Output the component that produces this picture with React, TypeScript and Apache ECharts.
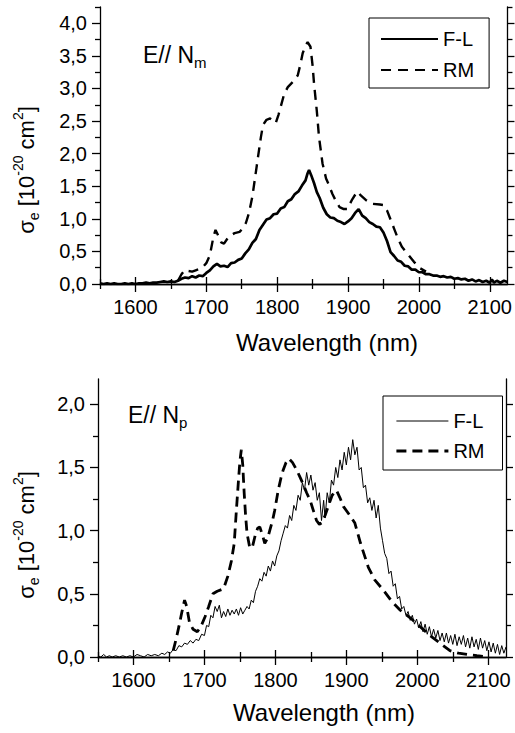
import React, { useEffect, useRef } from 'react';
import * as echarts from 'echarts';

const FONT = 'Liberation Sans, Arial, Helvetica, sans-serif';

// tick values
const xMajor = [1600, 1700, 1800, 1900, 2000, 2100];
const xMinor = [1550, 1650, 1750, 1850, 1950, 2050];
const yTopMajor = [0, 0.5, 1.0, 1.5, 2.0, 2.5, 3.0, 3.5, 4.0];
const yTopMinor = [0.25, 0.75, 1.25, 1.75, 2.25, 2.75, 3.25, 3.75, 4.25];
const yBotMajor = [0, 0.5, 1.0, 1.5, 2.0];
const yBotMinor = [0.25, 0.75, 1.25, 1.75];

const seriesNames = ['F-L', 'RM'];

// Top panel (E // Nm): F-L spectrum
const topFL: [number, number][] = [
  [1550, 0.01], [1555, 0.0], [1560, 0.01], [1565, 0.0], [1570, 0.01], [1575, 0.0], [1580, 0.0], [1585, 0.01],
  [1590, 0.0], [1595, 0.01], [1600, 0.0], [1605, 0.01], [1610, 0.01], [1615, 0.02], [1620, 0.01], [1625, 0.02],
  [1630, 0.02], [1635, 0.03], [1640, 0.04], [1645, 0.03], [1650, 0.04], [1655, 0.03], [1660, 0.05], [1665, 0.08],
  [1670, 0.1], [1675, 0.09], [1680, 0.12], [1685, 0.1], [1690, 0.13], [1695, 0.12], [1700, 0.17], [1705, 0.21],
  [1710, 0.27], [1715, 0.31], [1720, 0.27], [1725, 0.28], [1730, 0.26], [1735, 0.32], [1740, 0.33], [1745, 0.37],
  [1750, 0.39], [1755, 0.47], [1760, 0.53], [1765, 0.63], [1770, 0.69], [1775, 0.83], [1780, 0.91], [1785, 0.99],
  [1790, 1.01], [1795, 1.07], [1800, 1.08], [1805, 1.16], [1810, 1.18], [1815, 1.27], [1820, 1.3], [1825, 1.38],
  [1830, 1.42], [1835, 1.51], [1840, 1.59], [1843, 1.7], [1845, 1.75], [1848, 1.67], [1852, 1.55], [1856, 1.41],
  [1860, 1.32], [1865, 1.17], [1870, 1.07], [1875, 1.02], [1880, 1.01], [1885, 0.97], [1890, 0.95], [1895, 0.92],
  [1900, 0.96], [1905, 1.01], [1910, 1.09], [1915, 1.15], [1920, 1.05], [1925, 1.01], [1930, 0.95], [1935, 0.92],
  [1940, 0.88], [1945, 0.87], [1950, 0.79], [1955, 0.66], [1960, 0.49], [1965, 0.43], [1970, 0.36], [1975, 0.34],
  [1980, 0.28], [1985, 0.27], [1990, 0.22], [1995, 0.22], [2000, 0.18], [2005, 0.18], [2010, 0.15], [2015, 0.15],
  [2020, 0.13], [2025, 0.13], [2030, 0.11], [2035, 0.12], [2040, 0.1], [2045, 0.11], [2050, 0.08], [2055, 0.09],
  [2060, 0.07], [2065, 0.08], [2070, 0.05], [2075, 0.07], [2080, 0.04], [2085, 0.06], [2090, 0.03], [2095, 0.05],
  [2100, 0.02], [2103, 0.07], [2106, 0.02], [2110, 0.05], [2115, 0.02], [2120, 0.05], [2125, 0.03],
];

// Top panel: RM spectrum
const topRM: [number, number][] = [
  [1660, 0.05], [1665, 0.15], [1670, 0.22], [1675, 0.2], [1680, 0.19], [1685, 0.21], [1690, 0.23], [1695, 0.26],
  [1700, 0.32], [1705, 0.44], [1710, 0.72], [1713, 0.83], [1717, 0.74], [1721, 0.64], [1725, 0.62], [1730, 0.7],
  [1735, 0.75], [1740, 0.78], [1747, 0.8], [1752, 0.86], [1756, 0.94], [1760, 1.08], [1765, 1.34], [1770, 1.72],
  [1773, 1.95], [1777, 2.25], [1780, 2.44], [1785, 2.52], [1790, 2.54], [1795, 2.5], [1798, 2.47], [1802, 2.6],
  [1805, 2.72], [1810, 2.92], [1815, 3.02], [1822, 3.1], [1829, 3.2], [1833, 3.38], [1836, 3.54], [1840, 3.66],
  [1843, 3.71], [1847, 3.64], [1850, 3.35], [1852, 3.08], [1856, 2.65], [1859, 2.26], [1864, 1.85], [1869, 1.62],
  [1873, 1.52], [1878, 1.38], [1883, 1.27], [1888, 1.18], [1894, 1.15], [1899, 1.15], [1906, 1.3], [1913, 1.42],
  [1918, 1.36], [1925, 1.29], [1934, 1.23], [1945, 1.22], [1951, 1.21], [1955, 1.13], [1960, 0.99], [1965, 0.85],
  [1970, 0.71], [1976, 0.57], [1985, 0.45], [1993, 0.34], [2002, 0.24], [2010, 0.19],
];

// Bottom panel (E // Np): F-L spectrum
const botFL: [number, number][] = [
  [1550, 0.01], [1554, 0.0], [1558, 0.02], [1562, 0.0], [1566, 0.01], [1570, 0.0], [1575, 0.01], [1580, 0.0],
  [1585, 0.01], [1590, 0.0], [1595, 0.01], [1600, 0.0], [1605, 0.02], [1610, 0.01], [1615, 0.0], [1620, 0.02],
  [1625, 0.01], [1630, 0.02], [1635, 0.01], [1640, 0.03], [1644, 0.02], [1648, 0.04], [1652, 0.03], [1656, 0.06],
  [1660, 0.05], [1664, 0.09], [1668, 0.08], [1672, 0.11], [1676, 0.1], [1680, 0.13], [1684, 0.11], [1688, 0.14],
  [1692, 0.13], [1696, 0.18], [1700, 0.17], [1703, 0.25], [1706, 0.24], [1709, 0.33], [1712, 0.31], [1715, 0.4],
  [1718, 0.36], [1721, 0.41], [1724, 0.31], [1727, 0.36], [1730, 0.32], [1733, 0.38], [1736, 0.33], [1739, 0.37],
  [1742, 0.34], [1745, 0.38], [1748, 0.33], [1751, 0.39], [1754, 0.34], [1757, 0.37], [1760, 0.4], [1763, 0.38],
  [1766, 0.45], [1769, 0.43], [1772, 0.52], [1775, 0.56], [1778, 0.62], [1781, 0.6], [1784, 0.67], [1787, 0.64],
  [1790, 0.72], [1793, 0.68], [1796, 0.76], [1799, 0.72], [1802, 0.8], [1805, 0.84], [1808, 0.92], [1811, 0.98],
  [1814, 1.04], [1817, 1.02], [1820, 1.12], [1823, 1.08], [1826, 1.2], [1829, 1.16], [1832, 1.28], [1835, 1.24],
  [1838, 1.38], [1841, 1.32], [1844, 1.46], [1847, 1.36], [1850, 1.44], [1853, 1.32], [1856, 1.38], [1859, 1.24],
  [1862, 1.3], [1865, 1.08], [1868, 1.24], [1870, 1.1], [1873, 1.3], [1876, 1.22], [1879, 1.4], [1882, 1.36],
  [1885, 1.5], [1888, 1.42], [1891, 1.56], [1894, 1.48], [1897, 1.62], [1900, 1.52], [1903, 1.66], [1906, 1.56],
  [1909, 1.72], [1912, 1.6], [1915, 1.66], [1918, 1.48], [1921, 1.5], [1924, 1.34], [1927, 1.36], [1930, 1.22],
  [1933, 1.26], [1936, 1.16], [1939, 1.24], [1942, 1.1], [1945, 1.2], [1948, 1.02], [1951, 0.92], [1954, 0.82],
  [1957, 0.78], [1960, 0.66], [1963, 0.68], [1966, 0.56], [1969, 0.58], [1972, 0.46], [1975, 0.48], [1978, 0.38],
  [1981, 0.4], [1984, 0.33], [1987, 0.36], [1990, 0.29], [1993, 0.33], [1996, 0.26], [1999, 0.3], [2002, 0.23],
  [2005, 0.28], [2008, 0.2], [2011, 0.26], [2014, 0.18], [2017, 0.24], [2020, 0.16], [2023, 0.22], [2026, 0.15],
  [2029, 0.21], [2032, 0.13], [2035, 0.19], [2038, 0.12], [2041, 0.19], [2044, 0.11], [2047, 0.17], [2050, 0.1],
  [2053, 0.18], [2056, 0.09], [2059, 0.16], [2062, 0.1], [2065, 0.17], [2068, 0.08], [2071, 0.15], [2074, 0.07],
  [2077, 0.16], [2080, 0.08], [2083, 0.14], [2086, 0.06], [2089, 0.15], [2092, 0.07], [2095, 0.13], [2098, 0.05],
  [2101, 0.12], [2104, 0.04], [2107, 0.11], [2110, 0.03], [2113, 0.1], [2116, 0.02], [2119, 0.09], [2122, 0.03],
  [2125, 0.08],
];

// Bottom panel: RM spectrum
const botRM: [number, number][] = [
  [1656, 0.05], [1660, 0.14], [1664, 0.24], [1668, 0.35], [1672, 0.45], [1675, 0.4], [1679, 0.27], [1684, 0.22],
  [1690, 0.2], [1695, 0.24], [1701, 0.32], [1706, 0.4], [1712, 0.5], [1718, 0.52], [1727, 0.54], [1733, 0.64],
  [1738, 0.76], [1742, 0.9], [1745, 1.16], [1748, 1.4], [1750, 1.55], [1752, 1.64], [1754, 1.52], [1756, 1.3],
  [1758, 1.12], [1760, 0.98], [1764, 0.86], [1768, 0.88], [1771, 0.95], [1775, 1.02], [1778, 1.03], [1782, 0.96],
  [1785, 0.9], [1789, 0.94], [1792, 1.0], [1796, 1.08], [1799, 1.16], [1804, 1.32], [1808, 1.42], [1811, 1.48],
  [1815, 1.54], [1819, 1.57], [1824, 1.54], [1830, 1.48], [1835, 1.42], [1839, 1.37], [1844, 1.3], [1849, 1.24],
  [1854, 1.15], [1858, 1.08], [1862, 1.05], [1865, 1.06], [1870, 1.12], [1875, 1.2], [1880, 1.28], [1886, 1.32],
  [1891, 1.26], [1896, 1.19], [1905, 1.12], [1912, 1.06], [1916, 0.98], [1920, 0.9], [1924, 0.83], [1931, 0.71],
  [1940, 0.61], [1952, 0.53], [1964, 0.44], [1976, 0.37], [1990, 0.31], [2004, 0.24], [2018, 0.17], [2032, 0.11],
  [2046, 0.05], [2058, 0.03], [2070, 0.02], [2084, 0.01], [2100, 0.0],
];

const X_MIN = 1550;
const X_MAX = 2125;
const Y_TOP_MAX = 4.25;
const Y_BOT_MAX = 2.2;

const black = '#000';
const fmtComma = (v: number) => v.toFixed(1).replace('.', ',');

function xAxesFor(grid: number) {
  const base = {
    gridIndex: grid, type: 'value', min: X_MIN, max: X_MAX,
    splitLine: { show: false },
  };
  return [
    {
      ...base, position: 'bottom',
      axisLine: { show: true, lineStyle: { color: black, width: 1.3 } },
      axisTick: { show: true, inside: false, length: 8, customValues: xMajor, lineStyle: { color: black, width: 1.3 } },
      axisLabel: { show: true, customValues: xMajor, margin: 13, fontSize: 20, fontFamily: FONT, color: black, formatter: (v: number) => String(v) },
    },
    {
      ...base, position: 'bottom',
      axisLine: { show: false },
      axisTick: { show: true, inside: false, length: 5, customValues: xMinor, lineStyle: { color: black, width: 1.3 } },
      axisLabel: { show: false },
    },
    {
      ...base, position: 'top',
      axisLine: { show: true, lineStyle: { color: black, width: 1.3 } },
      axisTick: { show: true, inside: false, length: 7, customValues: xMajor, lineStyle: { color: black, width: 1.3 } },
      axisLabel: { show: false },
    },
    {
      ...base, position: 'top',
      axisLine: { show: false },
      axisTick: { show: true, inside: false, length: 5, customValues: xMinor, lineStyle: { color: black, width: 1.3 } },
      axisLabel: { show: false },
    },
  ];
}

function yAxesFor(grid: number, max: number, major: number[], minor: number[]) {
  const base = {
    gridIndex: grid, type: 'value', min: 0, max,
    splitLine: { show: false },
  };
  return [
    {
      ...base, position: 'left',
      axisLine: { show: true, lineStyle: { color: black, width: 1.3 } },
      axisTick: { show: true, inside: false, length: 8, customValues: major, lineStyle: { color: black, width: 1.3 } },
      axisLabel: { show: true, customValues: major, margin: 13, fontSize: 20, fontFamily: FONT, color: black, formatter: fmtComma },
    },
    {
      ...base, position: 'left',
      axisLine: { show: false },
      axisTick: { show: true, inside: false, length: 5, customValues: minor, lineStyle: { color: black, width: 1.3 } },
      axisLabel: { show: false },
    },
    {
      ...base, position: 'right',
      axisLine: { show: true, lineStyle: { color: black, width: 1.3 } },
      axisTick: { show: true, inside: false, length: 7, customValues: major, lineStyle: { color: black, width: 1.3 } },
      axisLabel: { show: false },
    },
    {
      ...base, position: 'right',
      axisLine: { show: false },
      axisTick: { show: true, inside: false, length: 5, customValues: minor, lineStyle: { color: black, width: 1.3 } },
      axisLabel: { show: false },
    },
  ];
}

const mainRich = (size: number) => ({ fontSize: size, lineHeight: 30, fontFamily: FONT, fill: black });
const smallRich = (size: number, va: string) => ({ fontSize: size, fontFamily: FONT, fill: black, verticalAlign: va });

function yTitle(x: number, y: number) {
  return {
    type: 'text', x, y, rotation: Math.PI / 2,
    style: {
      text: '{n|σ}{sub|e}{n| [10}{sup|-20}{n| cm}{sup|2}{n|]}',
      rich: { n: mainRich(22), sub: smallRich(14, 'bottom'), sup: smallRich(14, 'top') },
      align: 'center', verticalAlign: 'middle', fill: black, fontFamily: FONT,
    },
  };
}

function panelLabel(x: number, y: number, sub: string) {
  return {
    type: 'text', x, y,
    style: {
      text: '{n|E// N}{sub|' + sub + '}',
      rich: { n: mainRich(23), sub: smallRich(15, 'bottom') },
      align: 'left', verticalAlign: 'middle', fill: black, fontFamily: FONT,
    },
  };
}

function xTitle(x: number, y: number) {
  return {
    type: 'text', x, y,
    style: { text: 'Wavelength (nm)', fontSize: 24, fontFamily: FONT, fill: black, align: 'center', verticalAlign: 'middle' },
  };
}

export default function App() {
  const ref = useRef<HTMLDivElement>(null);
  useEffect(() => {
    if (!ref.current) return;
    const chart = echarts.init(ref.current, undefined, { renderer: 'svg' });
    const option: any = {
      animation: false,
      backgroundColor: '#fff',
      grid: [
        { left: 100, top: 7, width: 409, height: 277, containLabel: false },
        { left: 98, top: 379, width: 408, height: 278, containLabel: false },
      ],
      xAxis: [...xAxesFor(0), ...xAxesFor(1)],
      yAxis: [
        ...yAxesFor(0, Y_TOP_MAX, yTopMajor, yTopMinor),
        ...yAxesFor(1, Y_BOT_MAX, yBotMajor, yBotMinor),
      ],
      legend: [
        {
          left: 369, top: 18, orient: 'vertical', itemWidth: 57, itemHeight: 20, itemGap: 11,
          padding: [11, 15, 8, 11], borderColor: black, borderWidth: 1, selectedMode: false,
          data: [{ name: seriesNames[0] }, { name: seriesNames[1] }],
          itemStyle: { opacity: 0 },
          textStyle: { fontSize: 20, fontFamily: FONT, color: black, lineHeight: 20 },
        },
        {
          left: 383, top: 396, orient: 'vertical', itemWidth: 52, itemHeight: 18, itemGap: 10,
          padding: [15, 18, 9, 12], borderColor: black, borderWidth: 1, selectedMode: false,
          data: [
            { name: seriesNames[0], lineStyle: { width: 1 } },
            { name: seriesNames[1], lineStyle: { width: 2.8, type: [10, 6] } },
          ],
          itemStyle: { opacity: 0 },
          textStyle: { fontSize: 20, fontFamily: FONT, color: black, lineHeight: 18 },
        },
      ],
      series: [
        {
          name: seriesNames[0], type: 'line', xAxisIndex: 0, yAxisIndex: 0, data: topFL,
          symbol: 'none', silent: true, lineStyle: { color: black, width: 2.7 },
        },
        {
          name: seriesNames[1], type: 'line', xAxisIndex: 0, yAxisIndex: 0, data: topRM,
          symbol: 'none', silent: true, lineStyle: { color: black, width: 2.4, type: [10, 7] },
        },
        {
          name: seriesNames[0], type: 'line', xAxisIndex: 4, yAxisIndex: 4, data: botFL,
          symbol: 'none', silent: true, lineStyle: { color: black, width: 1 },
        },
        {
          name: seriesNames[1], type: 'line', xAxisIndex: 4, yAxisIndex: 4, data: botRM,
          symbol: 'none', silent: true, lineStyle: { color: black, width: 2.8, type: [10, 6] },
        },
      ],
      graphic: [
        yTitle(26, 170),
        yTitle(26, 535),
        panelLabel(143, 55, 'm'),
        panelLabel(128, 415, 'p'),
        xTitle(327, 342),
        xTitle(324, 712),
      ],
    };
    chart.setOption(option);
    return () => chart.dispose();
  }, []);
  return (
    <div
      ref={ref}
      style={{ position: 'absolute', left: 0, top: 0, width: 515, height: 733, background: '#fff' }}
    />
  );
}
